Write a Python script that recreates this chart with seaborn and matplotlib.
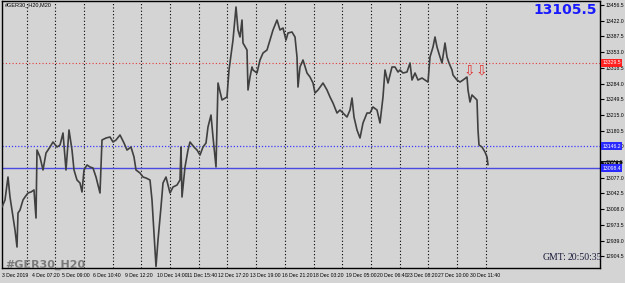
import pandas as pd
import numpy as np
import seaborn as sns
import matplotlib
matplotlib.use("Agg")
import matplotlib.pyplot as plt

## Data (bar position, price)
bars = [2, 5, 8, 10, 13, 15, 17, 18, 20, 23, 25, 28, 31, 34, 36, 37, 40, 43, 46, 50,
        53, 57, 60, 63, 66, 69, 72, 74, 77, 80, 82, 84, 87, 90, 93, 96, 100, 102, 106, 110,
        113, 116, 120, 124, 127, 131, 134, 136, 140, 143, 146, 150, 152, 154, 156, 158, 161, 163, 166, 170,
        173, 177, 180, 181, 182, 185, 188, 190, 194, 197, 200, 203, 206, 208, 211, 213, 216, 218, 222, 227,
        229, 232, 233, 236, 238, 240, 242, 243, 247, 248, 250, 252, 253, 257, 260, 263, 267, 270, 273, 277,
        280, 283, 286, 288, 292, 295, 297, 298, 300, 303, 307, 310, 313, 315, 318, 323, 327, 330, 333, 337,
        340, 343, 347, 350, 352, 354, 357, 360, 363, 367, 370, 373, 377, 380, 383, 385, 388, 392, 395, 398,
        400, 403, 407, 410, 412, 415, 418, 422, 425, 428, 430, 433, 435, 437, 440, 442, 445, 447, 449, 452,
        453, 457, 460, 463, 467, 468, 470, 472, 474, 477, 478, 479, 482, 485, 487, 488]
price = [13012.7, 13028.1, 13078.6, 13034.7, 12990.7, 12962.1, 12924.8, 12999.5, 13006.1, 13028.1,
         13034.7, 13043.5, 13045.7, 13050.1, 12988.5, 13137.9, 13122.6, 13094.0, 13131.3, 13144.5,
         13155.5, 13144.5, 13148.9, 13175.3, 13094.0, 13181.9, 13137.9, 13094.0, 13072.0, 13065.4,
         13045.7, 13094.0, 13105.0, 13100.6, 13098.4, 13078.6, 13043.5, 13159.9, 13164.3, 13166.5,
         13155.5, 13159.9, 13170.9, 13153.3, 13137.9, 13144.5, 13122.6, 13094.0, 13087.4, 13078.6,
         13076.4, 13072.0, 13028.1, 12955.6, 12882.0, 12940.2, 13012.7, 13065.4, 13078.6, 13043.5,
         13056.6, 13061.0, 13072.0, 13144.5, 13034.7, 13100.6, 13137.9, 13155.5, 13144.5, 13137.9,
         13126.9, 13144.5, 13153.3, 13188.5, 13214.8, 13166.5, 13100.6, 13285.1, 13247.8, 13254.4,
         13313.7, 13364.2, 13379.6, 13452.1, 13401.6, 13386.2, 13423.5, 13373.0, 13357.6, 13269.8,
         13298.3, 13320.3, 13313.7, 13307.1, 13335.7, 13351.0, 13357.6, 13379.6, 13401.6, 13423.5,
         13401.6, 13406.0, 13379.6, 13395.0, 13397.2, 13386.2, 13342.3, 13276.3, 13320.3, 13335.7,
         13307.1, 13298.3, 13285.1, 13263.2, 13269.8, 13285.1, 13269.8, 13254.4, 13241.2, 13219.2,
         13225.8, 13219.2, 13210.4, 13225.8, 13252.2, 13210.4, 13181.9, 13164.3, 13197.3, 13219.2,
         13219.2, 13232.4, 13225.8, 13197.3, 13254.4, 13313.7, 13285.1, 13320.3, 13320.3, 13309.3,
         13313.7, 13307.1, 13309.3, 13329.1, 13291.7, 13307.1, 13291.7, 13296.1, 13291.7, 13287.3,
         13342.3, 13364.2, 13386.2, 13364.2, 13342.3, 13329.1, 13373.0, 13342.3, 13329.1, 13313.7,
         13302.7, 13291.7, 13287.3, 13291.7, 13298.3, 13269.8, 13243.4, 13258.8, 13254.4, 13247.8,
         13181.9, 13148.9, 13144.5, 13133.5, 13122.6, 13105.5]

time_bars = [2, 32, 62, 93, 125, 157, 187, 218, 250, 282, 313, 346, 377, 407, 438, 470]
time_labels = ["3 Dec 2019", "4 Dec 07:20", "5 Dec 09:00", "6 Dec 10:40", "9 Dec 12:20",
               "10 Dec 14:00", "11 Dec 15:40", "12 Dec 17:20", "13 Dec 19:00", "16 Dec 21:20",
               "18 Dec 03:20", "19 Dec 05:00", "20 Dec 06:40", "23 Dec 08:20", "27 Dec 10:00",
               "30 Dec 11:40"]
price_ticks = [13456.5, 13422.0, 13387.5, 13353.0, 13318.5, 13284.0, 13249.5, 13215.0, 13180.5,
               13146.0, 13111.5, 13077.0, 13042.5, 13008.0, 12973.5, 12939.0, 12904.5]

red_level = 13329.5
blue_dot_level = 13146.2
blue_line_level = 13098.4
bid = 13105.5
arrow_bars = [469, 481]
arrow_price = [13313.7, 13313.7]

df = pd.DataFrame({"bar": bars, "price": price})

bg = "#d4d4d4"
small = ["Liberation Sans Narrow", "Liberation Sans", "DejaVu Sans"]
sns.set_style("white")
plt.rcParams["font.family"] = ["DejaVu Sans"]

fig = plt.figure(figsize=(6.25, 2.83), dpi=100, facecolor=bg)
ax = fig.add_axes([2 / 625, 15 / 283, 598 / 625, 267 / 283], facecolor=bg)

# vertical dotted grid (only where bars exist)
for gx in 26.5 + 28.7 * np.arange(17):
    ax.axvline(gx, color="black", lw=0.8, ls=(0, (1, 2)), zorder=1)

ax.axhline(red_level, color="#e03a3a", lw=0.8, ls=(0, (1, 2)), zorder=1)
ax.axhline(blue_dot_level, color="#3a3aff", lw=0.9, ls=(0, (1, 1.5)), zorder=1)
ax.axhline(blue_line_level, color="#4a4ae0", lw=1.0, zorder=1)

sns.lineplot(data=df, x="bar", y="price", color="#404040", lw=1.2, ax=ax, zorder=3)

for bx, by in zip(arrow_bars, arrow_price):
    ax.text(bx, by, "\u21e9", color="#e03030", fontsize=10, ha="center", va="center", zorder=4)

ax.set_xlim(2, 600)
ax.set_ylim(12878.7, 13465.3)
ax.set_xlabel("")
ax.set_ylabel("")

ax.yaxis.tick_right()
ax.set_yticks(price_ticks)
ax.set_yticklabels([f"{v:.1f}" for v in price_ticks], family=small)
ax.tick_params(axis="y", direction="out", length=3, width=0.8, labelsize=3.7, pad=1, colors="black")
ax.set_xticks(time_bars)
ax.set_xticklabels(time_labels, ha="left", family=small)
ax.tick_params(axis="x", direction="out", length=2, width=0.8, labelsize=3.7, pad=1.5, colors="black")

for s in ax.spines.values():
    s.set_color("black")
    s.set_linewidth(1.0)

# price boxes on the right axis
ytr = ax.get_yaxis_transform()
for val, lab, fc in [(red_level, "13329.5", "#ff2020"), (blue_dot_level, "13146.2", "#2a2aff"),
                     (bid, "13105.5", "#101010"), (blue_line_level, "13098.4", "#2a2aff")]:
    ax.text(1.004, val, lab, transform=ytr, fontsize=3.7, family=small, color="white",
            va="center", ha="left", bbox=dict(boxstyle="square,pad=0.25", fc=fc, ec="none"),
            zorder=5, clip_on=False)

fig.text(5 / 625, 1 - 5 / 283, "#GER30_H20,M20", fontsize=4.0, family=small, color="black", va="center")
fig.text(5 / 625, 1 - 265 / 283, "#GER30_H20", fontsize=8, color="#7a7a7a", weight="bold", va="center")
fig.text(597 / 625, 1 - 10 / 283, f"{bid:.1f}", fontsize=10, color="#1a1aff", weight="bold",
         ha="right", va="center")
fig.text(543 / 625, 1 - 258 / 283, "GMT:", fontsize=7, color="#1a1a3a", family="Liberation Serif", va="center")
fig.text(568 / 625, 1 - 258 / 283, "20:50:35", fontsize=7, color="#1a1a3a", family="Liberation Serif", va="center")

fig.savefig("out.png", dpi=100, facecolor=bg)
